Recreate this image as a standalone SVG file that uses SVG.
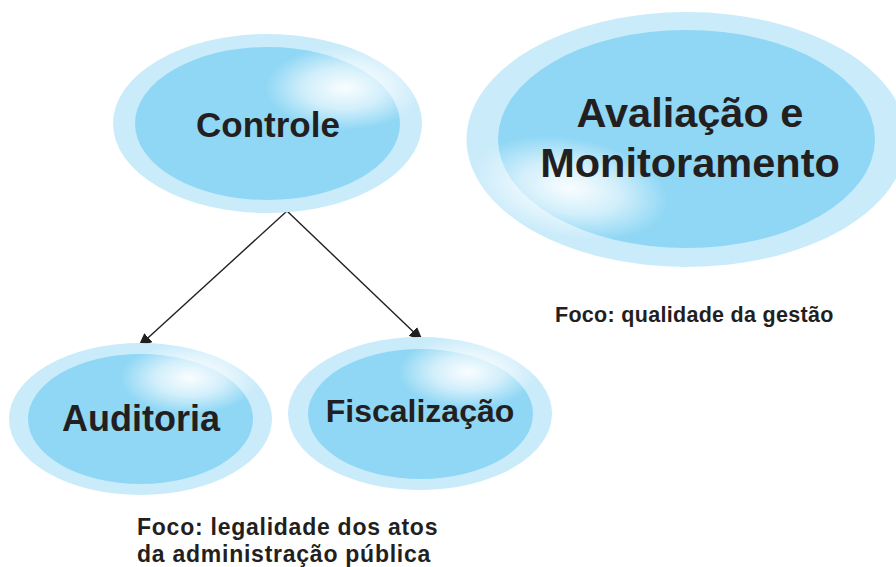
<svg xmlns="http://www.w3.org/2000/svg" width="896" height="567" viewBox="0 0 896 567">
<style>
.outer{fill:#c9ebfa}
.inner{fill:#8fd7f5}
.lbl{font-family:"Liberation Sans",Arial,sans-serif;font-weight:bold;fill:#231f20;text-anchor:middle}
.note{font-family:"Liberation Sans",Arial,sans-serif;font-weight:bold;fill:#231f20}
.conn{stroke:#231f20;stroke-width:1.4;fill:none}
</style>
<defs>
<radialGradient id="hl">
<stop offset="0" stop-color="#ffffff" stop-opacity="0.95"/>
<stop offset="0.5" stop-color="#ffffff" stop-opacity="0.6"/>
<stop offset="1" stop-color="#ffffff" stop-opacity="0"/>
</radialGradient>
<marker id="arr" markerUnits="userSpaceOnUse" markerWidth="15" markerHeight="13" refX="14" refY="6" orient="auto">
<path d="M0,0 L14,6 L0,12 z" fill="#231f20"/>
</marker>
<clipPath id="c1"><ellipse cx="267.5" cy="123.5" rx="154.5" ry="89.5"/></clipPath>
<clipPath id="c2"><ellipse cx="686.5" cy="139.5" rx="220" ry="127.5"/></clipPath>
<clipPath id="c3"><ellipse cx="140.5" cy="419" rx="131.5" ry="76"/></clipPath>
<clipPath id="c4"><ellipse cx="420" cy="413.5" rx="132" ry="76.5"/></clipPath>
</defs>

<g id="connectors">
<line class="conn" x1="287" y1="211" x2="138" y2="347" marker-end="url(#arr)"/>
<line class="conn" x1="287" y1="211" x2="423" y2="341" marker-end="url(#arr)"/>
</g>

<g id="node-controle">
<ellipse class="outer" cx="267.5" cy="123.5" rx="154.5" ry="89.5"/>
<ellipse class="inner" cx="267.5" cy="123.5" rx="132.5" ry="76.5"/>
<g clip-path="url(#c1)"><ellipse cx="345" cy="88" rx="80" ry="42" fill="url(#hl)"/></g>
<text class="lbl" x="268" y="137" font-size="35">Controle</text>
</g>

<g id="node-avaliacao">
<ellipse class="outer" cx="686.5" cy="139.5" rx="220" ry="127.5"/>
<ellipse class="inner" cx="686.5" cy="139" rx="188.5" ry="109"/>
<g clip-path="url(#c2)"><ellipse cx="570" cy="188" rx="100" ry="50" fill="url(#hl)" transform="rotate(10 570 188)"/></g>
<text class="lbl" x="690" y="127" font-size="41.5">Avaliação e</text>
<text class="lbl" x="690" y="177" font-size="41.5">Monitoramento</text>
</g>

<g id="node-auditoria">
<ellipse class="outer" cx="140.5" cy="419" rx="131.5" ry="76"/>
<ellipse class="inner" cx="140.5" cy="419" rx="112.5" ry="65"/>
<g clip-path="url(#c3)"><ellipse cx="190" cy="378" rx="70" ry="36" fill="url(#hl)"/></g>
<text class="lbl" x="141" y="431" font-size="36">Auditoria</text>
</g>

<g id="node-fiscalizacao">
<ellipse class="outer" cx="420" cy="413.5" rx="132" ry="76.5"/>
<ellipse class="inner" cx="420.5" cy="414" rx="112.5" ry="65"/>
<g clip-path="url(#c4)"><ellipse cx="468" cy="372" rx="70" ry="36" fill="url(#hl)"/></g>
<text class="lbl" x="420" y="422" font-size="32">Fiscalização</text>
</g>

<g id="notes">
<text class="note" x="555" y="322" font-size="21.5" letter-spacing="0.3">Foco: qualidade da gestão</text>
<text class="note" x="137" y="535" font-size="23" letter-spacing="0.75">Foco: legalidade dos atos</text>
<text class="note" x="137" y="562" font-size="23" letter-spacing="0.75">da administração pública</text>
</g>
</svg>
